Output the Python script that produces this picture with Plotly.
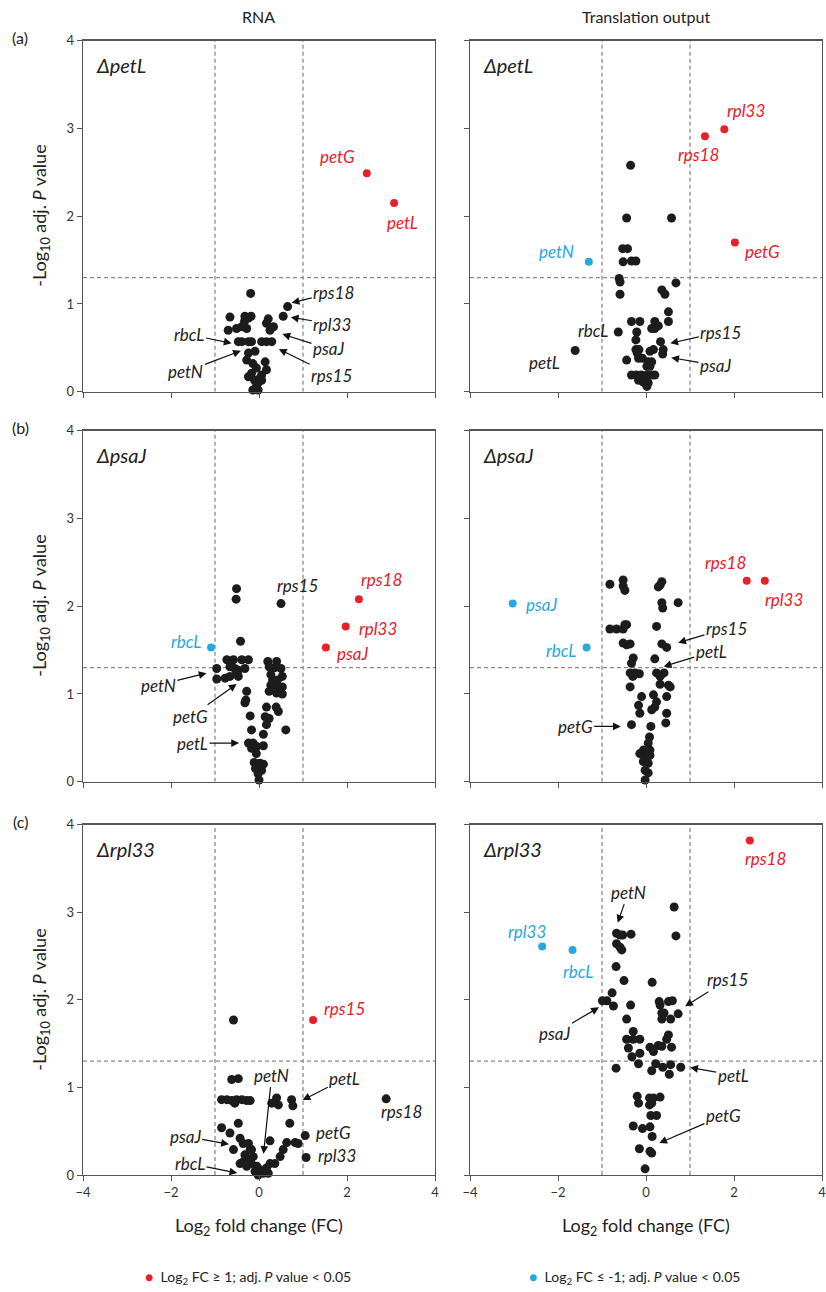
import plotly.graph_objects as go

# ---------------- data ----------------
# (a) ΔpetL
a_rna_x = [-0.19, 0.65, 0.55, -0.66, -0.32, -0.24, -0.33, -0.39, -0.28, -0.70, -0.51, -0.18,
           0.21, 0.17, 0.25, 0.33, -0.39, -0.24, -0.17, -0.47, 0.06, 0.17, 0.29,
           -0.24, -0.09, -0.28, -0.14, -0.06, -0.17, -0.10, -0.06, -0.14,
           0.14, 0.17, 0.06, 0.06, -0.02, -0.02, 0.02, -0.24, 2.45, 3.07]
a_rna_y = [1.12, 0.97, 0.86, 0.85, 0.86, 0.84, 0.80, 0.74, 0.72, 0.70, 0.72, 0.86,
           0.83, 0.78, 0.70, 0.74, 0.57, 0.57, 0.57, 0.57, 0.57, 0.57, 0.57,
           0.44, 0.46, 0.36, 0.32, 0.27, 0.21, 0.13, 0.06, 0.02,
           0.34, 0.25, 0.19, 0.13, 0.10, 0.02, 0.15, 0.17, 2.49, 2.15]

a_tl_x = [-0.35, -0.44, 0.58, -0.53, -0.42, -0.52, -0.33, -0.23, -0.61, -0.59, -0.59,
          0.68, 0.36, 0.43, 0.51, 0.51, -0.33, -0.14, 0.20, 0.28, 0.20, 0.13,
          -0.63, -0.21, -0.23, 0.33, -1.61, -0.23, -0.16, -0.17, -0.20,
          0.09, 0.17, 0.39, 0.38, -0.44, -0.08, 0.05, 0.13, 0.02, 0.09,
          -0.33, -0.22, -0.11, 0.02, 0.13, 0.20, -0.17, -0.06, 0.05, 0.02,
          1.78, 1.34, 2.02, -1.30]
a_tl_y = [2.58, 1.98, 1.98, 1.63, 1.63, 1.48, 1.49, 1.49, 1.29, 1.25, 1.11,
          1.24, 1.16, 1.11, 0.91, 0.80, 0.80, 0.80, 0.80, 0.75, 0.72, 0.72,
          0.68, 0.68, 0.59, 0.57, 0.47, 0.48, 0.48, 0.38, 0.44,
          0.46, 0.48, 0.48, 0.43, 0.36, 0.38, 0.34, 0.34, 0.29, 0.29,
          0.19, 0.19, 0.19, 0.19, 0.19, 0.19, 0.13, 0.11, 0.10, 0.06,
          2.99, 2.91, 1.70, 1.48]

# (b) ΔpsaJ
b_rna_x = [-0.51, -0.52, 0.50, -0.42, -0.73, -0.58, -0.39, -0.24, -0.96, -0.66, -0.55, -0.32, -0.47,
           -0.96, -0.77, -0.66, -0.47, -0.51, -0.28, -0.30, -0.32, -0.20, -0.17,
           -0.24, -0.13, -0.17, -0.05, 0.10, -0.06, 0.10,
           -0.11, 0.02, 0.10, -0.08, 0.06, -0.02, 0.00,
           0.20, 0.40, 0.23, 0.36, 0.50, 0.53, 0.27, 0.31, 0.42, 0.27, 0.40, 0.53, 0.23, 0.40, 0.53,
           0.17, 0.39, 0.44, 0.14, 0.23, 0.17, 0.61,
           2.27, 1.97, 1.52, -1.09]
b_rna_y = [2.20, 2.08, 2.03, 1.60, 1.39, 1.39, 1.39, 1.39, 1.29, 1.31, 1.29, 1.29, 1.27,
           1.17, 1.18, 1.20, 1.20, 1.24, 1.03, 0.93, 0.90, 0.75, 0.59,
           0.44, 0.44, 0.38, 0.40, 0.41, 0.32, 0.54,
           0.22, 0.21, 0.20, 0.15, 0.13, 0.09, 0.02,
           1.37, 1.37, 1.31, 1.30, 1.29, 1.20, 1.22, 1.16, 1.16, 1.10, 1.08, 1.08, 1.03, 1.01, 1.00,
           0.85, 0.85, 0.80, 0.74, 0.72, 0.65, 0.59,
           2.08, 1.77, 1.53, 1.53]

b_tl_x = [-0.82, -0.52, -0.52, -0.48, 0.36, 0.32, 0.28, 0.73, 0.36, 0.38,
          -0.82, -0.67, -0.52, -0.48, -0.44, 0.24, -0.52, -0.44, -0.36, 0.36, 0.47,
          -0.29, -0.33, 0.20, -0.36, -0.25, -0.15, -0.30, 0.24, 0.32, 0.41,
          -0.36, 0.32, 0.51, 0.55, -0.10, 0.17, 0.47,
          -0.17, 0.24, 0.20, 0.13, -0.14, 0.47, -0.33, 0.11, 0.45,
          0.08, 0.05, -0.06, 0.09, -0.14, -0.02, 0.09, -0.06, 0.05, -0.02, 0.05, -0.02,
          2.29, 2.70, -3.03, -1.35]
b_tl_y = [2.25, 2.30, 2.23, 2.18, 2.28, 2.24, 2.22, 2.04, 2.04, 1.98,
          1.74, 1.74, 1.74, 1.79, 1.79, 1.77, 1.58, 1.56, 1.57, 1.57, 1.53,
          1.41, 1.35, 1.40, 1.24, 1.24, 1.23, 1.20, 1.24, 1.20, 1.24,
          1.08, 1.11, 1.10, 1.08, 0.97, 0.99, 0.97,
          0.87, 0.91, 0.85, 0.82, 0.78, 0.78, 0.65, 0.63, 0.67,
          0.51, 0.44, 0.36, 0.36, 0.32, 0.28, 0.30, 0.23, 0.21, 0.13, 0.10, 0.02,
          2.29, 2.29, 2.03, 1.53]

# (c) Δrpl33
c_rna_x = [-0.58, -0.62, -0.47, -0.85, -0.73, -0.62, -0.51, -0.39, -0.28, -0.20, -0.55,
           0.29, 0.40, 0.44, 0.74, 0.77, -0.85, -0.47, -0.66, 0.70,
           -0.43, -0.36, -0.58, 0.25, 0.63, 0.82, 0.89, 1.05, 1.07, 0.55, 0.48, 0.36,
           -0.32, -0.20, -0.24, -0.13, -0.36, -0.17, -0.05, 0.02, -0.02, 0.10, 0.17, 0.25,
           -0.09, -0.28, -0.43, 0.21, -0.24, -0.17, 2.89, 1.23]
c_rna_y = [1.77, 1.09, 1.10, 0.86, 0.86, 0.85, 0.86, 0.86, 0.85, 0.85, 0.82,
           0.82, 0.88, 0.80, 0.86, 0.79, 0.54, 0.59, 0.48, 0.59,
           0.42, 0.36, 0.29, 0.39, 0.37, 0.37, 0.36, 0.45, 0.20, 0.29, 0.21, 0.13,
           0.23, 0.29, 0.17, 0.21, 0.15, 0.13, 0.10, 0.06, 0.00, 0.02, 0.08, 0.13,
           0.04, 0.10, 0.13, 0.02, 0.36, 0.29, 0.87, 1.77]

c_tl_x = [0.64, 0.68, -0.67, -0.59, -0.53, -0.34, -0.67, -0.59, -0.55,
          -0.68, -0.50, 0.14, -0.77, -0.99, -0.89, -0.74, -0.35,
          0.30, 0.32, 0.51, 0.60, 0.36, 0.41, 0.73, 0.36, 0.56, -0.44,
          -0.29, -0.44, -0.29, -0.14, -0.40, -0.32, -0.14,
          0.51, 0.47, 0.28, 0.36, 0.09, 0.17, 0.58,
          -0.17, 0.22, 0.38, 0.56, 0.79, -0.68, 0.13, 0.53,
          -0.20, -0.17, 0.08, 0.17, 0.32, 0.08, 0.13, 0.11, 0.24,
          -0.29, -0.08, 0.09, 0.14, -0.15, 0.09, 0.13, -0.02,
          2.36, -2.36, -1.67]
c_tl_y = [3.06, 2.73, 2.76, 2.74, 2.74, 2.75, 2.64, 2.60, 2.57,
          2.38, 2.22, 2.20, 2.08, 1.99, 1.99, 1.93, 1.94,
          1.98, 1.94, 1.98, 1.99, 1.85, 1.85, 1.84, 1.78, 1.78, 1.78,
          1.64, 1.55, 1.55, 1.55, 1.45, 1.35, 1.39,
          1.60, 1.55, 1.48, 1.47, 1.46, 1.41, 1.46,
          1.27, 1.27, 1.23, 1.26, 1.23, 1.22, 1.19, 1.15,
          0.90, 0.82, 0.88, 0.88, 0.89, 0.80, 0.82, 0.68, 0.68,
          0.56, 0.53, 0.55, 0.44, 0.30, 0.27, 0.25, 0.07,
          3.82, 2.61, 2.57]

# gene labels: (text, label x, label y, arrow-tip x, arrow-tip y, colour key)
a_rna_labels = [("petG", 1.79, 2.68, None, None, "r"), ("petL", 3.27, 1.93, None, None, "r"),
                ("rps18", 1.70, 1.13, 0.72, 1.01, "k"), ("rpl33", 1.67, 0.77, 0.70, 0.85, "k"),
                ("psaJ", 1.58, 0.49, 0.51, 0.66, "k"), ("rps15", 1.65, 0.19, 0.43, 0.49, "k"),
                ("rbcL", -1.58, 0.65, -0.60, 0.55, "k"), ("petN", -1.66, 0.23, -0.39, 0.47, "k")]
a_tl_labels = [("rpl33", 2.27, 3.21, None, None, "r"), ("rps18", 1.19, 2.70, None, None, "r"),
               ("petG", 2.64, 1.60, None, None, "r"), ("petN", -2.03, 1.60, None, None, "b"),
               ("rbcL", -1.21, 0.70, None, None, "k"), ("petL", -2.30, 0.33, None, None, "k"),
               ("rps15", 1.70, 0.68, 0.53, 0.55, "k"), ("psaJ", 1.58, 0.30, 0.55, 0.39, "k")]
b_rna_labels = [("rbcL", -1.66, 1.60, None, None, "b"), ("rps15", 0.88, 2.24, None, None, "k"),
                ("rps18", 2.79, 2.31, None, None, "r"), ("rpl33", 2.70, 1.75, None, None, "r"),
                ("psaJ", 2.12, 1.46, None, None, "r"), ("petN", -2.29, 1.10, -1.17, 1.24, "k"),
                ("petG", -1.55, 0.74, -0.49, 1.12, "k"), ("petL", -1.51, 0.44, -0.43, 0.44, "k")]
b_tl_labels = [("psaJ", -2.37, 2.02, None, None, "b"), ("rbcL", -1.94, 1.50, None, None, "b"),
               ("rps18", 1.80, 2.50, None, None, "r"), ("rpl33", 3.14, 2.08, None, None, "r"),
               ("rps15", 1.83, 1.75, 0.71, 1.58, "k"), ("petL", 1.48, 1.48, 0.38, 1.31, "k"),
               ("petG", -1.61, 0.63, -0.55, 0.63, "k")]
c_rna_labels = [("rps15", 1.95, 1.90, None, None, "r"), ("rps18", 3.24, 0.72, None, None, "k"),
                ("petG", 1.69, 0.48, None, None, "k"), ("rpl33", 1.77, 0.22, None, None, "k"),
                ("petN", 0.29, 1.14, 0.10, 0.23, "k"), ("petL", 1.95, 1.10, 0.97, 0.85, "k"),
                ("psaJ", -1.68, 0.44, -0.66, 0.35, "k"), ("rbcL", -1.57, 0.13, -0.47, 0.02, "k")]
c_tl_labels = [("rps18", 2.72, 3.61, None, None, "r"), ("rpl33", -2.71, 2.78, None, None, "b"),
               ("rbcL", -1.55, 2.32, None, None, "b"), ("petN", -0.40, 3.23, -0.65, 2.87, "k"),
               ("rps15", 1.85, 2.23, 0.87, 1.92, "k"), ("psaJ", -2.07, 1.62, -1.05, 1.92, "k"),
               ("petL", 1.98, 1.14, 0.98, 1.23, "k"), ("petG", 1.76, 0.68, 0.28, 0.36, "k")]

row_tags = ["(a)", "(b)", "(c)"]
mutants = ["ΔpetL", "ΔpsaJ", "Δrpl33"]
col_titles = ["RNA", "Translation output"]
x_ticks = [-4, -2, 0, 2, 4]
y_ticks = [0, 1, 2, 3, 4]
fc_cut = 1.0
p_cut = 1.3

# ---------------- styling ----------------
W, H = 826, 1292
FONT = "Lato"
RED, BLUE, BLACK = "#e8202a", "#29a8e0", "#1c1c1c"
LBL = {"r": RED, "b": BLUE, "k": "#222222"}


def fx(p):  # page pixel -> paper x
    return p / W


def fy(p):  # page pixel -> paper y
    return 1 - p / H


col_dom = [[fx(83), fx(435)], [fx(470), fx(822)]]
row_dom = [[fy(391.7), fy(40.7)], [fy(781.7), fy(430.7)], [fy(1175), fy(824.7)]]

panels = [
    (0, 0, a_rna_x, a_rna_y, a_rna_labels), (0, 1, a_tl_x, a_tl_y, a_tl_labels),
    (1, 0, b_rna_x, b_rna_y, b_rna_labels), (1, 1, b_tl_x, b_tl_y, b_tl_labels),
    (2, 0, c_rna_x, c_rna_y, c_rna_labels), (2, 1, c_tl_x, c_tl_y, c_tl_labels),
]

fig = go.Figure()
layout = {}
shapes = []
annotations = []

for i, (r, c, xs, ys, labels) in enumerate(panels, start=1):
    xa = "x" if i == 1 else f"x{i}"
    ya = "y" if i == 1 else f"y{i}"
    cols = []
    for x, y in zip(xs, ys):
        if x >= fc_cut and y >= p_cut:
            cols.append("r")
        elif x <= -fc_cut and y >= p_cut:
            cols.append("b")
        else:
            cols.append("k")
    for key, colr, size in (("k", BLACK, 9), ("r", RED, 8), ("b", BLUE, 8)):
        px = [x for x, k in zip(xs, cols) if k == key]
        py = [y for y, k in zip(ys, cols) if k == key]
        if px:
            fig.add_trace(go.Scatter(x=px, y=py, mode="markers", xaxis=xa, yaxis=ya,
                                     marker=dict(color=colr, size=size, line=dict(width=0)),
                                     cliponaxis=False, showlegend=False, hoverinfo="skip"))
    layout["xaxis" if i == 1 else f"xaxis{i}"] = dict(
        domain=col_dom[c], anchor=ya, range=[-4, 4], tickvals=x_ticks, automargin=False,
        showticklabels=(r == 2), ticks="outside", ticklen=5, tickcolor="#555",
        ticklabeloverflow="allow",
        showline=True, linecolor="#555", linewidth=1.3, mirror=True,
        showgrid=False, zeroline=False,
        tickfont=dict(family=FONT, size=13, color="#333"))
    layout["yaxis" if i == 1 else f"yaxis{i}"] = dict(
        domain=row_dom[r], anchor=xa, range=[0, 4], tickvals=y_ticks, automargin=False,
        showticklabels=(c == 0), ticks="outside", ticklen=5, tickcolor="#555",
        ticklabeloverflow="allow",
        showline=True, linecolor="#555", linewidth=1.3, mirror=True,
        showgrid=False, zeroline=False,
        tickfont=dict(family=FONT, size=13, color="#333"))
    dash = dict(color="#8a8a8a", width=1.3, dash="4px,3px")
    for xv in (-fc_cut, fc_cut):
        shapes.append(dict(type="line", xref=xa, yref=ya, x0=xv, x1=xv, y0=0, y1=4, line=dash, layer="below"))
    shapes.append(dict(type="line", xref=xa, yref=ya, x0=-4, x1=4, y0=p_cut, y1=p_cut, line=dash, layer="below"))
    # mutant title
    annotations.append(dict(text=f"<i>{mutants[r]}</i>", xref=f"{xa} domain", yref=f"{ya} domain",
                            x=0.03, y=0.93, xanchor="left", yanchor="middle", showarrow=False,
                            font=dict(family=FONT, size=20, color="#222")))
    for (t, tx, ty, hx, hy, ck) in labels:
        if hx is None:
            annotations.append(dict(text=f"<i>{t}</i>", x=tx, y=ty, xref=xa, yref=ya, showarrow=False,
                                    xanchor="center", yanchor="middle",
                                    font=dict(family=FONT, size=17, color=LBL[ck])))
        else:
            annotations.append(dict(text=f"<i>{t}</i>", x=hx, y=hy, ax=tx, ay=ty, xref=xa, yref=ya,
                                    axref=xa, ayref=ya, showarrow=True, arrowhead=2, arrowsize=1.3,
                                    arrowwidth=1.2, arrowcolor="#111", standoff=1,
                                    font=dict(family=FONT, size=17, color=LBL[ck])))

# column titles
for c, t in enumerate(col_titles):
    annotations.append(dict(text=t, xref="paper", yref="paper", x=(col_dom[c][0] + col_dom[c][1]) / 2,
                            y=fy(16), xanchor="center", yanchor="middle", showarrow=False,
                            font=dict(family=FONT, size=16, color="#222")))
# row tags and y titles
for r, tag in enumerate(row_tags):
    annotations.append(dict(text=tag, xref="paper", yref="paper", x=fx(20), y=row_dom[r][1] + 3 / H,
                            xanchor="center", yanchor="middle", showarrow=False,
                            font=dict(family=FONT, size=16, color="#222")))
    annotations.append(dict(text="-Log<sub>10</sub> adj. <i>P</i> value", xref="paper", yref="paper",
                            x=fx(41), y=row_dom[r][1] - 175 / H, textangle=-90, showarrow=False,
                            xanchor="center", yanchor="middle",
                            font=dict(family=FONT, size=18, color="#222")))
# x titles
for c in range(2):
    annotations.append(dict(text="Log<sub>2</sub> fold change (FC)", xref="paper", yref="paper",
                            x=(col_dom[c][0] + col_dom[c][1]) / 2, y=fy(1226), xanchor="center",
                            yanchor="middle", showarrow=False,
                            font=dict(family=FONT, size=18, color="#222")))
# legend
annotations.append(dict(text=f"<span style='color:{RED}'>●</span>  Log<sub>2</sub> FC ≥ 1; adj. <i>P</i> value < 0.05",
                        xref="paper", yref="paper", x=fx(143), y=fy(1277), xanchor="left", yanchor="middle",
                        showarrow=False, font=dict(family=FONT, size=14, color="#222")))
annotations.append(dict(text=f"<span style='color:{BLUE}'>●</span>  Log<sub>2</sub> FC ≤ -1; adj. <i>P</i> value < 0.05",
                        xref="paper", yref="paper", x=fx(527), y=fy(1277), xanchor="left", yanchor="middle",
                        showarrow=False, font=dict(family=FONT, size=14, color="#222")))

fig.update_layout(width=W, height=H, margin=dict(l=0, r=0, t=0, b=0, autoexpand=False),
                  plot_bgcolor="white", paper_bgcolor="white", shapes=shapes, annotations=annotations,
                  showlegend=False, font=dict(family=FONT), hovermode=False, **layout)
fig.write_html("out.html", config={"responsive": False, "displayModeBar": False, "staticPlot": True},
               post_script="document.body.style.margin='0';document.body.style.overflow='hidden';")
